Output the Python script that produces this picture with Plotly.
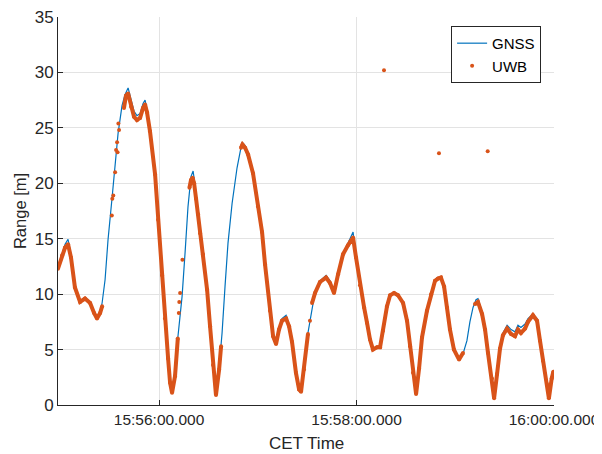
import pandas as pd
import plotly.graph_objects as go

# seconds after 15:55:00 (CET) and range [m]
gnss_t = [-1.4, 1.1, 2.9, 4.7, 6.5, 8.9, 12.0, 15.0, 18.1, 20.5, 22.3, 24.2, 25.4, 27.2, 29.0,
          31.4, 33.3, 35.1, 37.5, 39.3, 41.2, 43.0, 44.8, 46.6, 48.5, 50.3, 51.5, 52.7, 54.5,
          57.6, 59.4, 61.8, 63.6, 65.5, 66.7, 67.9, 69.7, 71.5, 74.0, 75.8, 77.6, 79.4, 80.7,
          81.9, 83.1, 84.9, 86.7, 89.2, 91.0, 92.8, 94.6, 96.5, 98.3, 100.1, 101.9, 104.4,
          107.4, 110.4, 112.3, 114.1, 117.1, 120.1, 122.6, 124.4, 127.4, 129.3, 131.1, 132.9,
          134.7, 137.2, 139.0, 140.8, 143.2, 145.1, 146.3, 148.1, 150.5, 153.0, 154.8, 157.8,
          161.5, 163.9, 166.3, 168.8, 171.8, 174.8, 176.1, 177.9, 179.7, 182.1, 184.6, 186.4,
          188.2, 190.0, 192.5, 194.3, 196.1, 198.5, 200.4, 202.8, 205.2, 208.3, 210.7, 212.5,
          214.3, 216.2, 218.0, 219.8, 222.8, 225.3, 227.7, 229.5, 231.3, 233.2, 235.0, 236.8,
          239.2, 242.3, 244.7, 247.1, 248.9, 250.8, 252.6, 253.8, 256.3, 258.1, 259.9, 262.3,
          263.6, 265.4, 267.2, 269.0, 271.5, 273.9, 276.3, 278.1, 279.9, 282.4, 284.2, 287.2,
          289.7, 291.5, 293.3, 295.7, 296.9, 298.8, 300.0]
gnss_r = [12.5, 13.6, 14.5, 14.95, 13.6, 10.8, 9.4, 9.7, 9.3, 8.4, 7.9, 8.4, 9.2, 11.3, 14.9,
          18.6, 21.5, 24.5, 27.0, 28.0, 28.6, 27.4, 26.5, 26.1, 26.3, 27.2, 27.5, 26.6, 24.9,
          21.0, 16.9, 11.9, 7.9, 4.3, 2.2, 1.3, 2.8, 6.2, 9.8, 13.7, 17.9, 20.6, 21.1,
          19.8, 18.3, 15.8, 13.8, 10.5, 7.2, 3.8, 1.0, 3.4, 6.5, 10.7, 14.6, 18.2,
          21.4, 23.7, 23.4, 22.7, 21.0, 18.0, 15.8, 12.8, 8.6, 6.3, 5.6, 6.9,
          7.8, 8.1, 7.3, 5.8, 3.0, 1.5, 1.3, 3.3, 6.5, 8.7, 10.2, 11.2,
          11.7, 11.2, 10.2, 11.9, 13.7, 14.6, 15.0, 15.6, 13.3, 10.8, 8.8, 7.4,
          5.9, 5.1, 5.3, 5.3, 6.8, 8.9, 9.9, 10.2, 10.0, 9.3, 7.7, 5.4,
          3.0, 1.1, 3.4, 6.2, 8.6, 10.1, 11.3, 11.5, 11.6, 10.8, 8.9, 6.9,
          5.1, 4.2, 4.6, 5.8, 7.5, 8.8, 9.5, 9.6, 8.4, 6.9, 4.8, 2.5,
          0.8, 2.9, 5.2, 6.5, 7.2, 6.8, 6.6, 7.2, 7.0, 7.3, 7.8, 8.2,
          7.8, 6.0, 4.2, 2.0, 0.8, 2.2, 3.1]

# UWB samples; None marks a gap in the measurements
uwb_t = [-1.4, 1.1, 2.9, 4.7, 6.5, 8.9, 12.0, 15.0, 18.1, 20.5, 22.3, 24.2, 25.4, None,
         31.3, None, 31.6, None, 32.2, None, 33.3, None, 33.9, None, 34.5, None, 34.8, None,
         35.3, None, 35.7, None,
         38.7, 39.9, 41.2, 43.0, 44.8, 46.6, 48.5, 50.3, 51.5, 52.7, 54.5, 57.6, 59.4, 61.8,
         63.6, 65.5, 66.7, 67.9, 69.7, 71.4, None, 72.0, None, 72.3, None, 72.8, None,
         74.2, None,
         78.5, 79.4, 80.4, 81.3, 82.5, 83.7, 84.9, 86.7, 89.2, 91.0, 92.8, 94.6, 96.5, 97.7,
         None,
         109.8, 110.7, 112.3, 114.1, 117.1, 120.1, 122.6, 124.4, 127.4, 129.3, 131.1, 132.9,
         134.7, 137.2, 139.0, 140.8, 143.2, 145.1, 146.3, 148.1, 150.5, None, 151.7, None,
         153.0, 154.8, 157.8, 161.5, 163.9, 166.3, 168.8, 171.8, 174.8, 176.1, 177.9, 179.7,
         182.1, 184.6, 186.4, 188.2, 190.0, 192.5, 194.3, 196.1, 198.5, 200.4, 202.8, 205.2,
         208.3, 210.7, 212.5, 214.3, 216.2, 218.0, 219.8, 222.8, 225.3, 227.7, 229.5, 231.3,
         233.2, 235.0, 236.8, 239.2, 242.3, 244.7, None,
         252.0, 253.8, 256.3, 258.1, 259.9, 262.3, 263.6, 265.4, 267.2, 269.0, 271.5, 273.9,
         276.3, 278.1, 279.9, 282.4, 284.2, 287.2, 289.7, 291.5, 293.3, 295.7, 296.9, 298.6,
         299.6, None,
         196.7, None, 230.1, None, 259.7]
uwb_r = [12.3, 13.5, 14.2, 14.5, 13.3, 10.6, 9.3, 9.6, 9.2, 8.3, 7.8, 8.3, 8.9, None,
         17.1, None, 18.6, None, 18.9, None, 21.0, None, 23.0, None, 23.7, None, 22.8, None,
         25.4, None, 24.8, None,
         26.8, 27.9, 28.1, 26.9, 26.0, 25.7, 25.9, 26.8, 27.1, 26.4, 24.7, 20.8, 16.7, 11.7,
         7.8, 4.2, 2.0, 1.1, 2.6, 6.0, None, 8.3, None, 9.3, None, 10.1, None,
         13.1, None,
         19.6, 20.3, 20.5, 20.0, 18.6, 17.2, 15.5, 13.6, 10.4, 7.1, 3.6, 0.9, 3.2, 5.3,
         None,
         23.2, 23.5, 23.2, 22.6, 20.9, 17.9, 15.6, 12.7, 8.5, 6.2, 5.5, 6.8,
         7.6, 7.8, 7.1, 5.7, 2.9, 1.4, 1.2, 3.2, 6.4, None, 7.6, None,
         9.2, 10.1, 11.1, 11.5, 11.0, 10.1, 11.8, 13.6, 14.4, 14.7, 15.1, 13.3,
         10.8, 8.8, 7.4, 5.9, 5.0, 5.2, 5.2, 6.7, 8.9, 9.9, 10.1, 9.9,
         9.2, 7.6, 5.3, 2.9, 1.0, 3.3, 6.1, 8.5, 10.0, 11.2, 11.4, 11.5,
         10.7, 8.8, 6.8, 5.0, 4.1, 4.7, None,
         9.1, 9.3, 8.2, 6.8, 4.7, 2.4, 0.6, 2.8, 5.1, 6.3, 6.9, 6.4,
         6.2, 6.8, 6.5, 6.9, 7.5, 8.1, 7.6, 5.8, 4.0, 1.9, 0.6, 2.4,
         3.0, None,
         30.2, None, 22.7, None, 22.9]

tick_secs = [60, 180, 300]
series_names = ["GNSS", "UWB"]
x_title = "CET Time"
y_title = "Range [m]"

base = pd.Timestamp("2021-06-01 15:55:00")


def to_time(secs):
    return [None if s is None else base + pd.Timedelta(seconds=s) for s in secs]


BLUE = "#0072BD"
ORANGE = "#D95319"
FONT = "Liberation Sans, Arial, sans-serif"
AX = "#262626"
GRID = "#e3e3e3"

fig = go.Figure()
fig.add_trace(go.Scatter(x=to_time(gnss_t), y=gnss_r, mode="lines", name=series_names[0],
                         line=dict(color=BLUE, width=1.2)))
fig.add_trace(go.Scatter(x=to_time(uwb_t), y=uwb_r, mode="lines", showlegend=False,
                         connectgaps=False, hoverinfo="skip",
                         line=dict(color=ORANGE, width=4)))
fig.add_trace(go.Scatter(x=to_time(uwb_t), y=uwb_r, mode="markers", name=series_names[1],
                         marker=dict(color=ORANGE, size=4)))

# the page body adds an 8 px offset, so the figure is 8 px smaller than the window
fig.update_layout(
    width=594, height=446,
    margin=dict(l=50, r=48, t=9, b=49, autoexpand=False),
    paper_bgcolor="white", plot_bgcolor="white",
    font=dict(family=FONT, size=15, color=AX),
    showlegend=True,
    legend=dict(x=0.974, y=0.977, xanchor="right", yanchor="top",
                bgcolor="white", bordercolor=AX, borderwidth=1,
                font=dict(size=15, color="#000000"), tracegroupgap=0),
    xaxis=dict(
        automargin=False, ticklabeloverflow="allow",
        range=[base + pd.Timedelta(seconds=-1.4), base + pd.Timedelta(seconds=300)],
        tickvals=to_time(tick_secs), tickformat="%H:%M:%S.%L",
        ticks="inside", ticklen=5, tickcolor=AX,
        showline=True, linecolor=AX, linewidth=1, mirror=False,
        showgrid=True, gridcolor=GRID, gridwidth=1, zeroline=False,
        tickfont=dict(size=15.5, color=AX),
    ),
    yaxis=dict(
        automargin=False, ticklabeloverflow="allow",
        range=[0, 35], dtick=5, tick0=0,
        ticks="inside", ticklen=5, tickcolor=AX,
        showline=True, linecolor=AX, linewidth=1, mirror=False,
        showgrid=True, gridcolor=GRID, gridwidth=1, zeroline=False,
        tickfont=dict(size=17, color=AX),
        title=dict(text=y_title, font=dict(size=16.5, color=AX), standoff=3),
    ),
    annotations=[dict(text=x_title, xref="paper", yref="paper", x=0.5, y=-0.098,
                      xanchor="center", yanchor="middle", showarrow=False,
                      font=dict(size=17, color=AX))],
)

fig.write_html("out.html")
